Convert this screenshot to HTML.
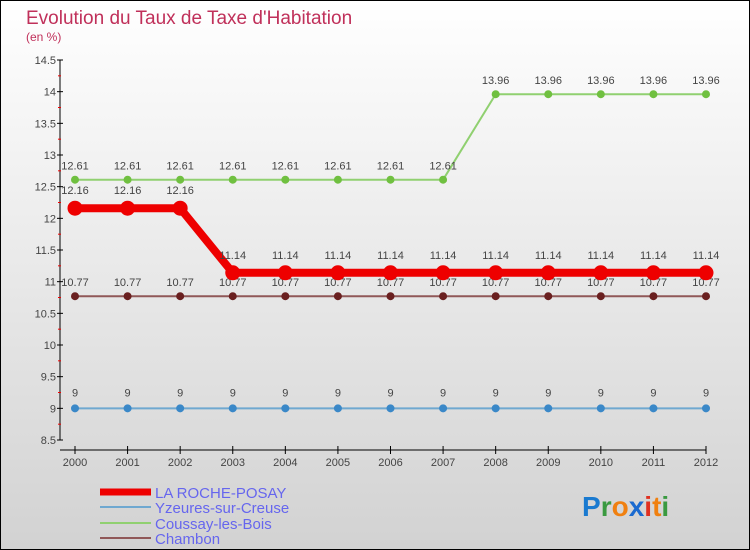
<!DOCTYPE html>
<html><head><meta charset="utf-8"><style>
body{margin:0}
svg{display:block;font-family:"Liberation Sans",sans-serif}
</style></head><body>
<svg id="c" width="750" height="550" viewBox="0 0 750 550">
<defs><linearGradient id="bg" x1="0" y1="0" x2="0" y2="1"><stop offset="0" stop-color="#ffffff"/><stop offset="1" stop-color="#d2d2d2"/></linearGradient></defs>
<rect x="0.5" y="0.5" width="749" height="549" fill="url(#bg)" stroke="#000"/>
<text x="26" y="24" font-size="19" fill="#c0305a">Evolution du Taux de Taxe d'Habitation</text>
<text x="26" y="41" font-size="12" fill="#c0305a">(en %)</text>
<g id="axes"></g><g id="series"></g>
<g>
<line x1="100" y1="492" x2="151" y2="492" stroke="#ee0000" stroke-width="7"/>
<text x="155" y="498" font-size="15" fill="#6666ee">LA ROCHE-POSAY</text>
<line x1="100" y1="507" x2="151" y2="507" stroke="#6fa8d0" stroke-width="2"/>
<text x="155" y="513" font-size="15" fill="#6666ee">Yzeures-sur-Creuse</text>
<line x1="100" y1="523" x2="151" y2="523" stroke="#90d070" stroke-width="2"/>
<text x="155" y="529" font-size="15" fill="#6666ee">Coussay-les-Bois</text>
<line x1="100" y1="538" x2="151" y2="538" stroke="#905858" stroke-width="2"/>
<text x="155" y="544" font-size="15" fill="#6666ee">Chambon</text>
</g>
<g font-size="28" font-weight="bold">
<text x="582" y="516"><tspan fill="#1a7ad0">P</tspan><tspan fill="#3a9a40">r</tspan><tspan fill="#f08010">o</tspan><tspan fill="#1a6ad0">x</tspan><tspan fill="#e03020">i</tspan><tspan fill="#f08010">t</tspan><tspan fill="#3a9a40">i</tspan></text>
</g>
</svg>
<script>
const years=["2000","2001","2002","2003","2004","2005","2006","2007","2008","2009","2010","2011","2012"];
const yTicks=[8.5,9,9.5,10,10.5,11,11.5,12,12.5,13,13.5,14,14.5];
const rochePosay=[12.16,12.16,12.16,11.14,11.14,11.14,11.14,11.14,11.14,11.14,11.14,11.14,11.14];
const yzeures=[9,9,9,9,9,9,9,9,9,9,9,9,9];
const coussay=[12.61,12.61,12.61,12.61,12.61,12.61,12.61,12.61,13.96,13.96,13.96,13.96,13.96];
const chambon=[10.77,10.77,10.77,10.77,10.77,10.77,10.77,10.77,10.77,10.77,10.77,10.77,10.77];
const NS="http://www.w3.org/2000/svg";
const X=i=>75+i*(706-75)/(years.length-1);
const Y=v=>440-(v-8.5)*(380/6);
function mk(t,a,p){const e=document.createElementNS(NS,t);for(const k in a)e.setAttribute(k,a[k]);p.appendChild(e);return e;}
const ax=document.getElementById('axes');
mk('line',{x1:60,y1:60,x2:60,y2:440,stroke:'#000'},ax);
mk('line',{x1:60,y1:450,x2:706,y2:450,stroke:'#000'},ax);
yTicks.forEach(v=>{mk('line',{x1:57,y1:Y(v),x2:63,y2:Y(v),stroke:'#000'},ax);
 if(v<14.5)mk('line',{x1:58,y1:Y(v+0.25),x2:61,y2:Y(v+0.25),stroke:'#e00'},ax);
 const t=mk('text',{x:56,y:Y(v)+4,'font-size':11,fill:'#444','text-anchor':'end'},ax);t.textContent=v;
 
 });
years.forEach((y,i)=>{mk('line',{x1:X(i),y1:446,x2:X(i),y2:454,stroke:'#000'},ax);
 const t=mk('text',{x:X(i),y:466,'font-size':11,fill:'#444','text-anchor':'middle'},ax);t.textContent=y;
 
 });
const sg=document.getElementById('series');
function series(d,col,w,r,fill,name,off){
 const g=mk('g',{},sg);
 
 
 mk('polyline',{points:d.map((v,i)=>X(i)+','+Y(v)).join(' '),fill:'none',stroke:col,'stroke-width':w},g);
 d.forEach((v,i)=>{const c=mk('circle',{cx:X(i),cy:Y(v),r:r,fill:fill,stroke:fill},g);
  
  
  const t=mk('text',{x:X(i),y:Y(v)-off,'font-size':11,fill:'#444','text-anchor':'middle'},g);
  t.textContent=String(v.toFixed(2)).replace(/\.00$/,'').replace(/^(\d+\.\d)0$/,'$1');
  
  });
}
series(yzeures,'#6fa8d0',2,3.5,'#3a88c8','series-yzeures',12);
series(chambon,'#905858',2,3.5,'#6a2020','series-chambon',10);
series(coussay,'#90d070',2,3.5,'#70c040','series-coussay',10);
series(rochePosay,'#ee0000',8,7,'#ee0000','series-la-roche-posay',14);
</script>
</body></html>
